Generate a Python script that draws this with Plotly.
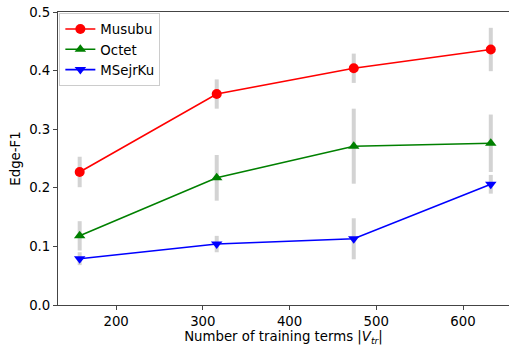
import plotly.graph_objects as go

x_terms = [158, 316, 474, 632]

musubu = [0.227, 0.360, 0.404, 0.436]
musubu_err = [0.026, 0.025, 0.025, 0.037]

octet = [0.118, 0.217, 0.271, 0.276]
octet_err = [0.025, 0.039, 0.064, 0.049]

msejrku = [0.079, 0.104, 0.113, 0.206]
msejrku_err = [0.011, 0.014, 0.035, 0.016]

series = [
    ("Musubu", musubu, musubu_err, "red", "circle", 10),
    ("Octet", octet, octet_err, "green", "triangle-up", 10),
    ("MSejrKu", msejrku, msejrku_err, "blue", "triangle-down", 10),
]

fig = go.Figure()

# error bars first (drawn beneath the lines)
for name, ys, errs, color, sym, sz in series:
    fig.add_trace(go.Scatter(
        x=x_terms, y=ys, mode="markers",
        marker=dict(size=1, opacity=0),
        error_y=dict(type="data", array=errs, visible=True,
                     color="#d3d3d3", thickness=4, width=0),
        showlegend=False, hoverinfo="skip",
    ))

for name, ys, errs, color, sym, sz in series:
    fig.add_trace(go.Scatter(
        x=x_terms, y=ys, mode="lines+markers", name=name,
        line=dict(color=color, width=1.6),
        marker=dict(color=color, symbol=sym, size=sz, line=dict(width=0)),
    ))

font = "DejaVu Sans, sans-serif"
fs = 13.3
fig.update_layout(
    width=509, height=351,
    margin=dict(l=58, r=0, t=12, b=46, autoexpand=False),
    plot_bgcolor="white", paper_bgcolor="white",
    font=dict(family=font, size=fs, color="black"),
    showlegend=True,
    legend=dict(x=0.003, y=0.997, xanchor="left", yanchor="top",
                bgcolor="rgba(255,255,255,0.8)", bordercolor="#cccccc",
                borderwidth=1, font=dict(size=fs, family=font),
                itemwidth=30, tracegroupgap=0),
    xaxis=dict(
        range=[133, 653], tickvals=[200, 300, 400, 500, 600],
        showgrid=False, zeroline=False,
        showline=True, linecolor="#444", linewidth=1.1, mirror=True,
        ticks="outside", ticklen=4, tickcolor="#444", tickwidth=1,
        title=dict(text="Number of training terms |<i>V</i><sub><i>tr</i></sub>|",
                   standoff=3, font=dict(size=fs)),
    ),
    yaxis=dict(
        range=[0, 0.5], tickvals=[0.0, 0.1, 0.2, 0.3, 0.4, 0.5],
        tickformat=".1f",
        showgrid=False, zeroline=False,
        showline=True, linecolor="#444", linewidth=1.1,
        ticks="outside", ticklen=4, tickcolor="#444", tickwidth=1,
        title=dict(text="Edge-F1", standoff=5, font=dict(size=fs)),
    ),
)

fig.write_html("out.html", config={"displayModeBar": False},
               post_script="document.body.style.margin='0';document.body.style.padding='0';")
